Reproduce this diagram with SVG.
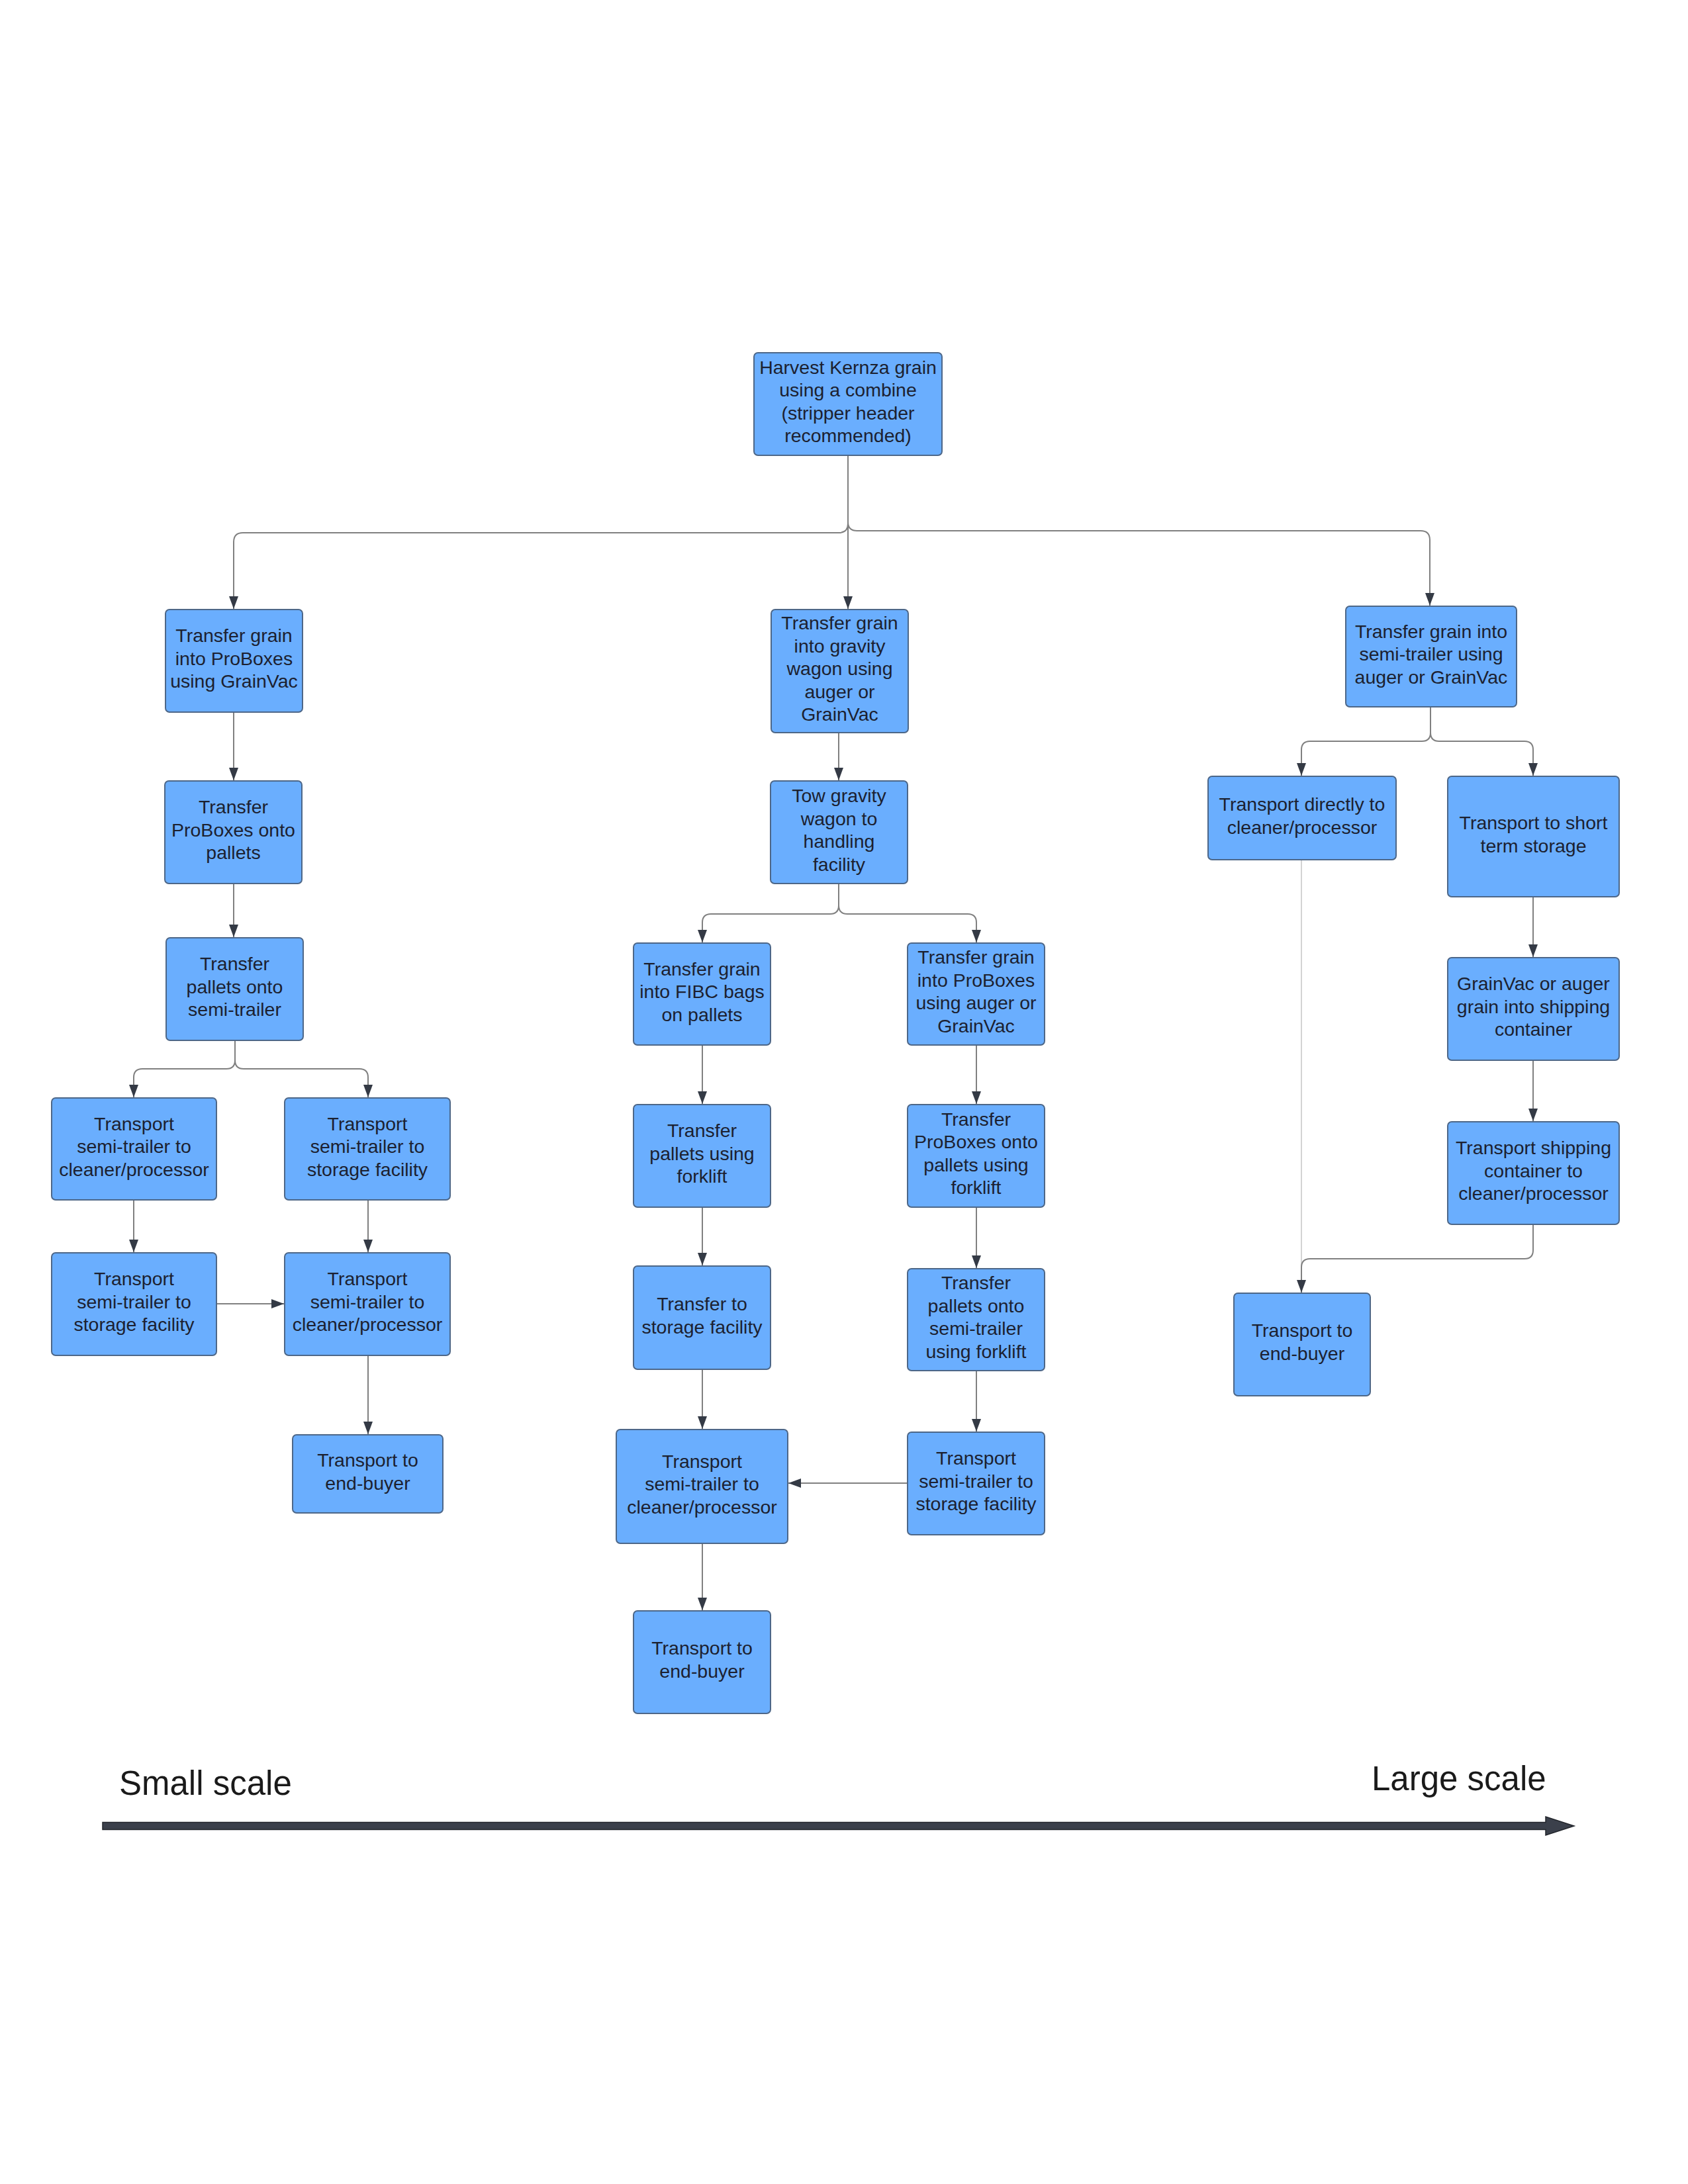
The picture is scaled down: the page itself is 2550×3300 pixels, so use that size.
<svg xmlns="http://www.w3.org/2000/svg" width="2550" height="3300" viewBox="0 0 2550 3300">
<style>
.n rect{fill:#6aaefe;stroke:#4d6788;stroke-width:2}
.n text{font-family:"Liberation Sans",Arial,sans-serif;font-size:28.5px;fill:#1c2130;text-anchor:middle}
.c path{fill:none;stroke:#808080;stroke-width:2}
.c path.thin{stroke:#c4c4c4;stroke-width:1.5}
.lbl{font-family:"Liberation Sans",Arial,sans-serif;font-size:51px;fill:#1a1a1a}
</style>
<defs>
<marker id="ah" markerUnits="userSpaceOnUse" markerWidth="22" markerHeight="16" refX="19" refY="7" orient="auto">
<path d="M0,0 L19,7 L0,14 Z" fill="#343a45"/>
</marker>
</defs>
<rect x="0" y="0" width="2550" height="3300" fill="#ffffff"/>
<g class="c" id="connectors">
<path d="M1281,688 V791 Q1281,805 1267,805 H367 Q353,805 353,819 V920" marker-end="url(#ah)"/>
<path d="M1281,688 V920" marker-end="url(#ah)"/>
<path d="M1281,688 V789 Q1281,802 1295,802 H2146 Q2160,802 2160,816 V915" marker-end="url(#ah)"/>
<path d="M353,1076 V1179" marker-end="url(#ah)"/>
<path d="M353,1335 V1416" marker-end="url(#ah)"/>
<path d="M355,1572 V1602 Q355,1615 342,1615 H215 Q202,1615 202,1628 V1658" marker-end="url(#ah)"/>
<path d="M355,1572 V1602 Q355,1615 368,1615 H543 Q556,1615 556,1628 V1658" marker-end="url(#ah)"/>
<path d="M202,1813 V1892" marker-end="url(#ah)"/>
<path d="M556,1813 V1892" marker-end="url(#ah)"/>
<path d="M327,1970 H429" marker-end="url(#ah)"/>
<path d="M556,2048 V2167" marker-end="url(#ah)"/>
<path d="M1267,1107 V1179" marker-end="url(#ah)"/>
<path d="M1267,1335 V1368 Q1267,1381 1254,1381 H1074 Q1061,1381 1061,1394 V1424" marker-end="url(#ah)"/>
<path d="M1267,1335 V1368 Q1267,1381 1280,1381 H1462 Q1475,1381 1475,1394 V1424" marker-end="url(#ah)"/>
<path d="M1061,1579 V1668" marker-end="url(#ah)"/>
<path d="M1475,1579 V1668" marker-end="url(#ah)"/>
<path d="M1061,1824 V1912" marker-end="url(#ah)"/>
<path d="M1475,1824 V1916" marker-end="url(#ah)"/>
<path d="M1061,2070 V2159" marker-end="url(#ah)"/>
<path d="M1475,2071 V2163" marker-end="url(#ah)"/>
<path d="M1371,2241 H1191" marker-end="url(#ah)"/>
<path d="M1061,2332 V2433" marker-end="url(#ah)"/>
<path d="M2161,1068 V1107 Q2161,1120 2148,1120 H1979 Q1966,1120 1966,1133 V1172" marker-end="url(#ah)"/>
<path d="M2161,1068 V1107 Q2161,1120 2174,1120 H2303 Q2316,1120 2316,1133 V1172" marker-end="url(#ah)"/>
<path d="M2316,1355 V1446" marker-end="url(#ah)"/>
<path d="M2316,1602 V1694" marker-end="url(#ah)"/>
<path class="thin" d="M1966,1299 V1940"/>
<path d="M2316,1850 V1889 Q2316,1902 2303,1902 H1979 Q1966,1902 1966,1915 V1953" marker-end="url(#ah)"/>
</g>
<g class="n" id="harvest"><rect x="1139" y="533" width="284" height="155" rx="6"/><text><tspan x="1281" y="565">Harvest Kernza grain</tspan><tspan x="1281" y="599">using a combine</tspan><tspan x="1281" y="634">(stripper header</tspan><tspan x="1281" y="668">recommended)</tspan></text></g>
<g class="n" id="l1"><rect x="250" y="921" width="207" height="155" rx="6"/><text><tspan x="353.5" y="970">Transfer grain</tspan><tspan x="353.5" y="1004.5">into ProBoxes</tspan><tspan x="353.5" y="1039">using GrainVac</tspan></text></g>
<g class="n" id="m1"><rect x="1165" y="921" width="207" height="186" rx="6"/><text><tspan x="1268.5" y="951">Transfer grain</tspan><tspan x="1268.5" y="985.5">into gravity</tspan><tspan x="1268.5" y="1020">wagon using</tspan><tspan x="1268.5" y="1054.5">auger or</tspan><tspan x="1268.5" y="1089">GrainVac</tspan></text></g>
<g class="n" id="r1"><rect x="2033" y="916" width="258" height="152" rx="6"/><text><tspan x="2162" y="963.5">Transfer grain into</tspan><tspan x="2162" y="998">semi-trailer using</tspan><tspan x="2162" y="1032.5">auger or GrainVac</tspan></text></g>
<g class="n" id="l2"><rect x="249" y="1180" width="207" height="155" rx="6"/><text><tspan x="352.5" y="1229">Transfer</tspan><tspan x="352.5" y="1263.5">ProBoxes onto</tspan><tspan x="352.5" y="1298">pallets</tspan></text></g>
<g class="n" id="l3"><rect x="251" y="1417" width="207" height="155" rx="6"/><text><tspan x="354.5" y="1466">Transfer</tspan><tspan x="354.5" y="1500.5">pallets onto</tspan><tspan x="354.5" y="1535">semi-trailer</tspan></text></g>
<g class="n" id="l4a"><rect x="78" y="1659" width="249" height="154" rx="6"/><text><tspan x="202.5" y="1707.5">Transport</tspan><tspan x="202.5" y="1742">semi-trailer to</tspan><tspan x="202.5" y="1776.5">cleaner/processor</tspan></text></g>
<g class="n" id="l4b"><rect x="430" y="1659" width="250" height="154" rx="6"/><text><tspan x="555" y="1707.5">Transport</tspan><tspan x="555" y="1742">semi-trailer to</tspan><tspan x="555" y="1776.5">storage facility</tspan></text></g>
<g class="n" id="l5a"><rect x="78" y="1893" width="249" height="155" rx="6"/><text><tspan x="202.5" y="1942">Transport</tspan><tspan x="202.5" y="1976.5">semi-trailer to</tspan><tspan x="202.5" y="2011">storage facility</tspan></text></g>
<g class="n" id="l5b"><rect x="430" y="1893" width="250" height="155" rx="6"/><text><tspan x="555" y="1942">Transport</tspan><tspan x="555" y="1976.5">semi-trailer to</tspan><tspan x="555" y="2011">cleaner/processor</tspan></text></g>
<g class="n" id="l6"><rect x="442" y="2168" width="227" height="118" rx="6"/><text><tspan x="555.5" y="2216">Transport to</tspan><tspan x="555.5" y="2250.5">end-buyer</tspan></text></g>
<g class="n" id="m2"><rect x="1164" y="1180" width="207" height="155" rx="6"/><text><tspan x="1267.5" y="1212">Tow gravity</tspan><tspan x="1267.5" y="1246.5">wagon to</tspan><tspan x="1267.5" y="1281">handling</tspan><tspan x="1267.5" y="1315.5">facility</tspan></text></g>
<g class="n" id="m3a"><rect x="957" y="1425" width="207" height="154" rx="6"/><text><tspan x="1060.5" y="1473.5">Transfer grain</tspan><tspan x="1060.5" y="1508">into FIBC bags</tspan><tspan x="1060.5" y="1542.5">on pallets</tspan></text></g>
<g class="n" id="m3b"><rect x="1371" y="1425" width="207" height="154" rx="6"/><text><tspan x="1474.5" y="1456">Transfer grain</tspan><tspan x="1474.5" y="1490.5">into ProBoxes</tspan><tspan x="1474.5" y="1525">using auger or</tspan><tspan x="1474.5" y="1559.5">GrainVac</tspan></text></g>
<g class="n" id="m4a"><rect x="957" y="1669" width="207" height="155" rx="6"/><text><tspan x="1060.5" y="1718">Transfer</tspan><tspan x="1060.5" y="1752.5">pallets using</tspan><tspan x="1060.5" y="1787">forklift</tspan></text></g>
<g class="n" id="m4b"><rect x="1371" y="1669" width="207" height="155" rx="6"/><text><tspan x="1474.5" y="1700.5">Transfer</tspan><tspan x="1474.5" y="1735">ProBoxes onto</tspan><tspan x="1474.5" y="1769.5">pallets using</tspan><tspan x="1474.5" y="1804">forklift</tspan></text></g>
<g class="n" id="m5a"><rect x="957" y="1913" width="207" height="156" rx="6"/><text><tspan x="1060.5" y="1980">Transfer to</tspan><tspan x="1060.5" y="2014.5">storage facility</tspan></text></g>
<g class="n" id="m5b"><rect x="1371" y="1917" width="207" height="154" rx="6"/><text><tspan x="1474.5" y="1948">Transfer</tspan><tspan x="1474.5" y="1982.5">pallets onto</tspan><tspan x="1474.5" y="2017">semi-trailer</tspan><tspan x="1474.5" y="2051.5">using forklift</tspan></text></g>
<g class="n" id="m6a"><rect x="931" y="2160" width="259" height="172" rx="6"/><text><tspan x="1060.5" y="2217.5">Transport</tspan><tspan x="1060.5" y="2252">semi-trailer to</tspan><tspan x="1060.5" y="2286.5">cleaner/processor</tspan></text></g>
<g class="n" id="m6b"><rect x="1371" y="2164" width="207" height="155" rx="6"/><text><tspan x="1474.5" y="2213">Transport</tspan><tspan x="1474.5" y="2247.5">semi-trailer to</tspan><tspan x="1474.5" y="2282">storage facility</tspan></text></g>
<g class="n" id="m7"><rect x="957" y="2434" width="207" height="155" rx="6"/><text><tspan x="1060.5" y="2500">Transport to</tspan><tspan x="1060.5" y="2534.5">end-buyer</tspan></text></g>
<g class="n" id="r2a"><rect x="1825" y="1173" width="284" height="126" rx="6"/><text><tspan x="1967" y="1225">Transport directly to</tspan><tspan x="1967" y="1259.5">cleaner/processor</tspan></text></g>
<g class="n" id="r2b"><rect x="2187" y="1173" width="259" height="182" rx="6"/><text><tspan x="2316.5" y="1253">Transport to short</tspan><tspan x="2316.5" y="1287.5">term storage</tspan></text></g>
<g class="n" id="r3"><rect x="2187" y="1447" width="259" height="155" rx="6"/><text><tspan x="2316.5" y="1496">GrainVac or auger</tspan><tspan x="2316.5" y="1530.5">grain into shipping</tspan><tspan x="2316.5" y="1565">container</tspan></text></g>
<g class="n" id="r4"><rect x="2187" y="1695" width="259" height="155" rx="6"/><text><tspan x="2316.5" y="1744">Transport shipping</tspan><tspan x="2316.5" y="1778.5">container to</tspan><tspan x="2316.5" y="1813">cleaner/processor</tspan></text></g>
<g class="n" id="r5"><rect x="1864" y="1954" width="206" height="155" rx="6"/><text><tspan x="1967" y="2020">Transport to</tspan><tspan x="1967" y="2054.5">end-buyer</tspan></text></g>
<g id="scale">
<text class="lbl" x="180" y="2712">Small scale</text>
<text class="lbl" x="2072" y="2705">Large scale</text>
<path d="M155,2753.5 H2335 V2745 L2378,2759 L2335,2773 V2764.5 H155 Z" fill="#3b404b" stroke="#23262c" stroke-width="1.5"/>
</g>
</svg>
